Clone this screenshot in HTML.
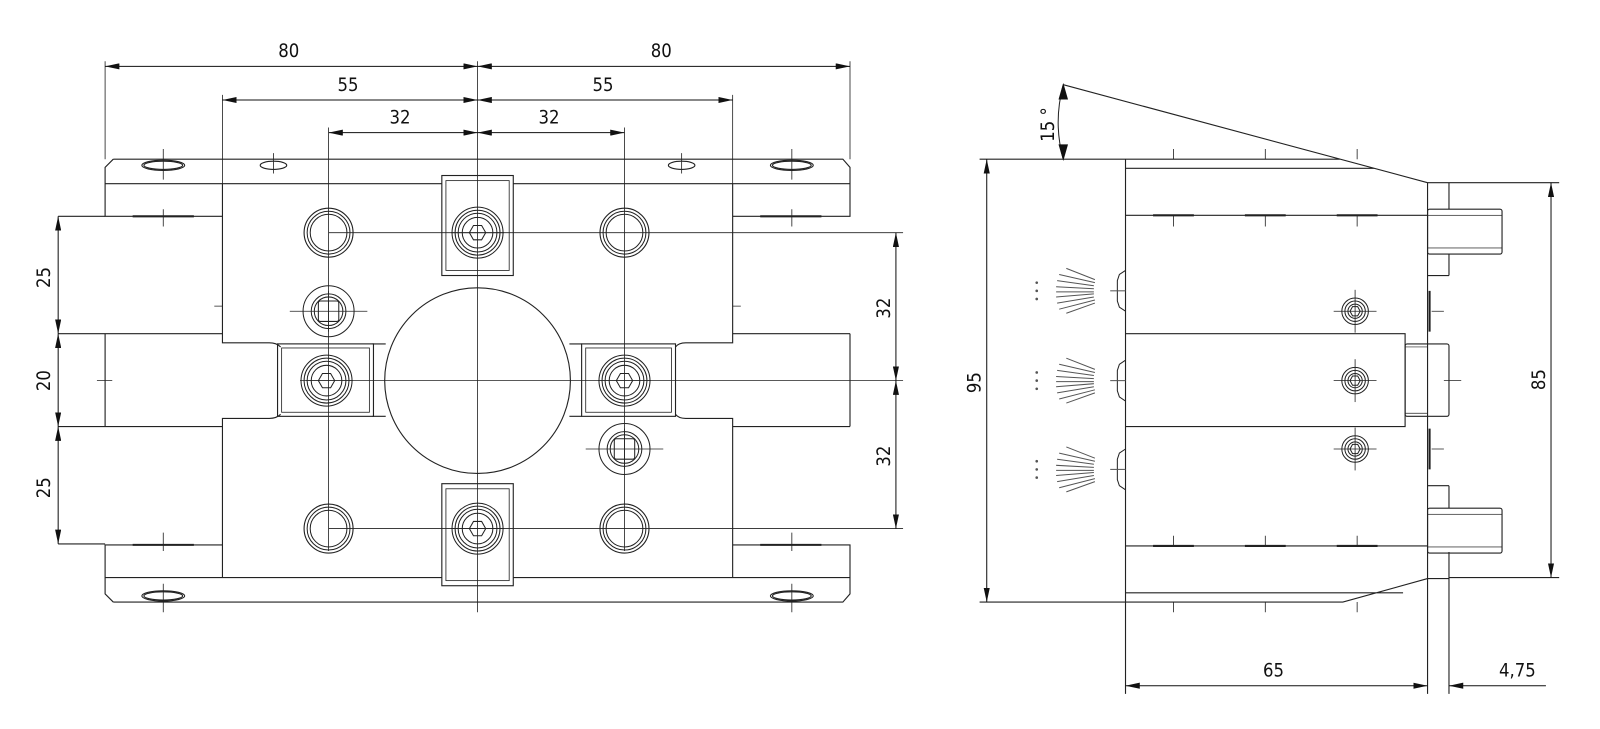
<!DOCTYPE html>
<html><head><meta charset="utf-8"><style>
html,body{margin:0;padding:0;background:#fff;}
svg{display:block;}
text{font-family:"DejaVu Sans Condensed","Liberation Sans",sans-serif;font-size:18px;fill:#111;}
</style></head><body>
<svg width="1600" height="729" viewBox="0 0 1568 714.4" preserveAspectRatio="none" xmlns="http://www.w3.org/2000/svg">
<defs>
<marker id="a" viewBox="0 0 14 6" refX="14" refY="3" markerWidth="14" markerHeight="6" markerUnits="userSpaceOnUse" orient="auto-start-reverse"><path d="M0,0 L14,3 L0,6 Z" fill="#111"/></marker>
<g id="hole"><circle r="24" fill="none" stroke="#222" stroke-width="1.1"/><circle r="21" fill="none" stroke="#222" stroke-width="1"/><circle r="18" fill="none" stroke="#222" stroke-width="1"/></g>
<g id="hex"><circle r="25" fill="none" stroke="#222"/><circle r="22" fill="none" stroke="#222"/><circle r="19" fill="none" stroke="#222"/><circle r="15" fill="none" stroke="#222"/><polygon points="8,0 4,7 -4,7 -8,0 -4,-7 4,-7" fill="none" stroke="#222"/><line x1="-26" y1="0" x2="26" y2="0" stroke="#222" stroke-width=".8"/></g>
<g id="sq"><circle r="25" fill="none" stroke="#222"/><circle r="17" fill="none" stroke="#222"/><circle r="14" fill="none" stroke="#222"/><rect x="-10" y="-10" width="20" height="20" rx="2" fill="none" stroke="#222"/><line x1="-38" y1="0" x2="38" y2="0" stroke="#222" stroke-width=".8"/><line x1="0" y1="-20" x2="0" y2="20" stroke="#222" stroke-width=".8"/></g>
<g id="sscrew"><circle r="13" fill="none" stroke="#222"/><circle r="10" fill="none" stroke="#222"/><circle r="7" fill="none" stroke="#222"/><polygon points="5,0 2.5,4.5 -2.5,4.5 -5,0 -2.5,-4.5 2.5,-4.5" fill="none" stroke="#222"/><line x1="-21" y1="0" x2="21" y2="0" stroke="#222" stroke-width=".8"/><line x1="0" y1="-21" x2="0" y2="21" stroke="#222" stroke-width=".8"/></g>
<g id="fan" stroke="#555" stroke-width="1"><line x1="1045" y1="-22" x2="1073" y2="-11"/><line x1="1038" y1="-16" x2="1073" y2="-8"/><line x1="1036" y1="-10" x2="1072" y2="-5"/><line x1="1035" y1="-4" x2="1072" y2="-2"/><line x1="1035" y1="1" x2="1072" y2="1"/><line x1="1035" y1="6" x2="1072" y2="3"/><line x1="1036" y1="12" x2="1072" y2="6"/><line x1="1038" y1="18" x2="1073" y2="9"/><line x1="1045" y1="22" x2="1073" y2="12"/><circle cx="1016" cy="-8" r=".8" fill="#555"/><circle cx="1016" cy="0" r=".8" fill="#555"/><circle cx="1016" cy="8" r=".8" fill="#555"/><path d="M1103,-20 L1097,-16 L1095,-10 L1095,10 L1097,16 L1103,20" fill="none" stroke="#222"/><line x1="1088" y1="0" x2="1103" y2="0"/></g>
</defs>

<g fill="none" stroke="#222" stroke-width="1.1">
<!-- ===== FRONT VIEW ===== -->
<!-- top flange -->
<path d="M111,156 H826 L833,164 V212 H718 M111,156 L103,164 V212 H218"/>
<path d="M103,180 H433 M503,180 H833"/>
<!-- bottom flange -->
<path d="M111,590 H826 L833,582 V534 H718 M111,590 L103,582 V534 H218"/>
<path d="M103,566 H433 M503,566 H833"/>
<!-- flange holes -->
<ellipse cx="160" cy="162" rx="21" ry="5"/><ellipse cx="160" cy="162" rx="19" ry="4"/>
<ellipse cx="268" cy="162" rx="13" ry="4"/>
<ellipse cx="668" cy="162" rx="13" ry="4"/>
<ellipse cx="776" cy="162" rx="21" ry="5"/><ellipse cx="776" cy="162" rx="19" ry="4"/>
<ellipse cx="160" cy="584" rx="21" ry="5"/><ellipse cx="160" cy="584" rx="19" ry="4"/>
<ellipse cx="776" cy="584" rx="21" ry="5"/><ellipse cx="776" cy="584" rx="19" ry="4"/>
<!-- body -->
<path d="M218,180 V336 H264 Q271,336 275,340"/>
<path d="M218,566 V410 H264 Q271,410 275,406"/>
<path d="M718,180 V336 H672 Q665,336 662,340"/>
<path d="M718,566 V410 H672 Q665,410 662,406"/>
<!-- rails -->
<path d="M57,327 H218 M57,418 H218 M103,327 V418 M365,337 H378 M365,408 H378"/>
<path d="M718,327 H833 M718,418 H833 M833,327 V418 M558,337 H570 M558,408 H570"/>
<path d="M57,212 H103 M57,533 H103"/>
<!-- side blocks -->
<rect x="272" y="337" width="94" height="71"/><rect x="276" y="341" width="86" height="63" stroke-width=".8"/>
<rect x="570" y="337" width="92" height="71"/><rect x="574" y="341" width="84" height="63" stroke-width=".8"/>
<!-- top/bottom clamp -->
<rect x="433" y="172" width="70" height="98"/><rect x="437" y="177" width="62" height="88" stroke-width=".8"/>
<rect x="433" y="474" width="70" height="100"/><rect x="437" y="479" width="62" height="90" stroke-width=".8"/>
<!-- circle -->
<circle cx="468" cy="373" r="91" fill="#fff"/>
<!-- center lines -->
<path d="M468,60 V600 M322,125 V540 M612,125 V540 M103,60 V156 M833,60 V156 M218,93 V180 M718,93 V180" stroke-width=".8"/>
<path d="M322,228 H885 M322,518 H885 M300,373 H885 M95,373 H110 M826,373 H840" stroke-width=".8"/>
<path d="M160,146 V176 M268,150 V170 M668,150 V170 M776,146 V176 M160,205 V222 M776,205 V222 M160,522 V540 M776,522 V540 M160,572 V600 M776,572 V600 M210,300 H218 M718,300 H726" stroke-width=".8"/>
<path d="M130,212 H190 M745,212 H805 M130,534 H190 M745,534 H805" stroke-width="2"/>
</g>
<!-- holes -->
<use href="#hole" x="322" y="228"/><use href="#hole" x="612" y="228"/>
<use href="#hole" x="322" y="518"/><use href="#hole" x="612" y="518"/>
<use href="#hex" x="468" y="228"/><use href="#hex" x="468" y="518"/>
<use href="#hex" x="320" y="373"/><use href="#hex" x="612" y="373"/>
<use href="#sq" x="322" y="305"/><use href="#sq" x="612" y="440"/>

<!-- front dims -->
<g stroke="#111" stroke-width="1">
<line x1="103" y1="65" x2="468" y2="65" marker-start="url(#a)" marker-end="url(#a)"/>
<line x1="468" y1="65" x2="833" y2="65" marker-start="url(#a)" marker-end="url(#a)"/>
<line x1="218" y1="98" x2="468" y2="98" marker-start="url(#a)" marker-end="url(#a)"/>
<line x1="468" y1="98" x2="718" y2="98" marker-start="url(#a)" marker-end="url(#a)"/>
<line x1="322" y1="130" x2="468" y2="130" marker-start="url(#a)" marker-end="url(#a)"/>
<line x1="468" y1="130" x2="612" y2="130" marker-start="url(#a)" marker-end="url(#a)"/>
<line x1="57" y1="212" x2="57" y2="327" marker-start="url(#a)" marker-end="url(#a)"/>
<line x1="57" y1="327" x2="57" y2="418" marker-start="url(#a)" marker-end="url(#a)"/>
<line x1="57" y1="418" x2="57" y2="533" marker-start="url(#a)" marker-end="url(#a)"/>
<line x1="878" y1="228" x2="878" y2="373" marker-start="url(#a)" marker-end="url(#a)"/>
<line x1="878" y1="373" x2="878" y2="518" marker-start="url(#a)" marker-end="url(#a)"/>
</g>
<text x="283" y="56" text-anchor="middle">80</text><text x="648" y="56" text-anchor="middle">80</text>
<text x="341" y="89" text-anchor="middle">55</text><text x="591" y="89" text-anchor="middle">55</text>
<text x="392" y="121" text-anchor="middle">32</text><text x="538" y="121" text-anchor="middle">32</text>
<text transform="translate(49,272) rotate(-90)" text-anchor="middle">25</text>
<text transform="translate(49,373) rotate(-90)" text-anchor="middle">20</text>
<text transform="translate(49,478) rotate(-90)" text-anchor="middle">25</text>
<text transform="translate(872,302) rotate(-90)" text-anchor="middle">32</text>
<text transform="translate(872,447) rotate(-90)" text-anchor="middle">32</text>

<!-- ===== SIDE VIEW ===== -->
<g fill="none" stroke="#222" stroke-width="1.1">
<path d="M960,156 H1313 M1103,156 V680 M1103,165 H1347 M1042,83 L1399,179 M1103,211 H1399 M1103,327 H1377 V418 H1103 M1103,535 H1399 M1103,581 H1375 M960,590 H1316 L1399,567"/>
<path d="M1399,179 V680 M1420,179 V205 M1420,249 V270 M1420,476 V498 M1420,541 V680 M1399,179 H1528 M1420,566 H1528 M1399,567 H1420"/>
<rect x="1399" y="205" width="73" height="44" rx="2"/><rect x="1399" y="211" width="73" height="32" stroke-width=".7"/>
<rect x="1399" y="498" width="73" height="44" rx="2"/><rect x="1399" y="504" width="73" height="32" stroke-width=".7"/>
<path d="M1399,270 H1420 M1399,476 H1420"/>
<rect x="1377" y="337" width="43" height="71" rx="2"/>
<path d="M1377,340 H1399 M1377,405 H1399" stroke-width=".7"/>
<path d="M1401,285 V325 M1401,420 V460" stroke-width="2"/>
<path d="M1403,305 H1415 M1403,440 H1415 M1415,373 H1432" stroke-width=".8"/>
<path d="M1150,146 V156 M1240,146 V156 M1330,146 V156 M1150,590 V600 M1240,590 V600 M1330,590 V600 M1150,211 V222 M1240,211 V222 M1330,211 V222 M1150,525 V535 M1240,525 V535 M1330,525 V535" stroke-width=".8"/>
<path d="M1130,211 H1170 M1220,211 H1260 M1310,211 H1350 M1130,535 H1170 M1220,535 H1260 M1310,535 H1350" stroke-width="2"/>
<path d="M1042,83 Q1032,120 1042,156" stroke-width="1"/>
</g>
<use href="#fan" x="0" y="285"/><use href="#fan" x="0" y="373"/><use href="#fan" x="0" y="460"/>
<use href="#sscrew" x="1328" y="305"/><use href="#sscrew" x="1328" y="373"/><use href="#sscrew" x="1328" y="440"/>
<g stroke="#111" stroke-width="1">
<line x1="967" y1="156" x2="967" y2="590" marker-start="url(#a)" marker-end="url(#a)"/>
<line x1="1520" y1="179" x2="1520" y2="566" marker-start="url(#a)" marker-end="url(#a)"/>
<line x1="1103" y1="672" x2="1399" y2="672" marker-start="url(#a)" marker-end="url(#a)"/>
<line x1="1515" y1="672" x2="1420" y2="672" marker-end="url(#a)"/>
<path d="M1042,83 L1038,97 L1046,97 Z M1042,156 L1038,142 L1046,142 Z" fill="#111"/>
</g>
<text transform="translate(961,375) rotate(-90)" text-anchor="middle">95</text>
<text transform="translate(1514,372) rotate(-90)" text-anchor="middle">85</text>
<text x="1248" y="663" text-anchor="middle">65</text>
<text x="1487" y="663" text-anchor="middle">4,75</text>
<text transform="translate(1033,122) rotate(-90)" text-anchor="middle">15 °</text>
</svg>
</body></html>
